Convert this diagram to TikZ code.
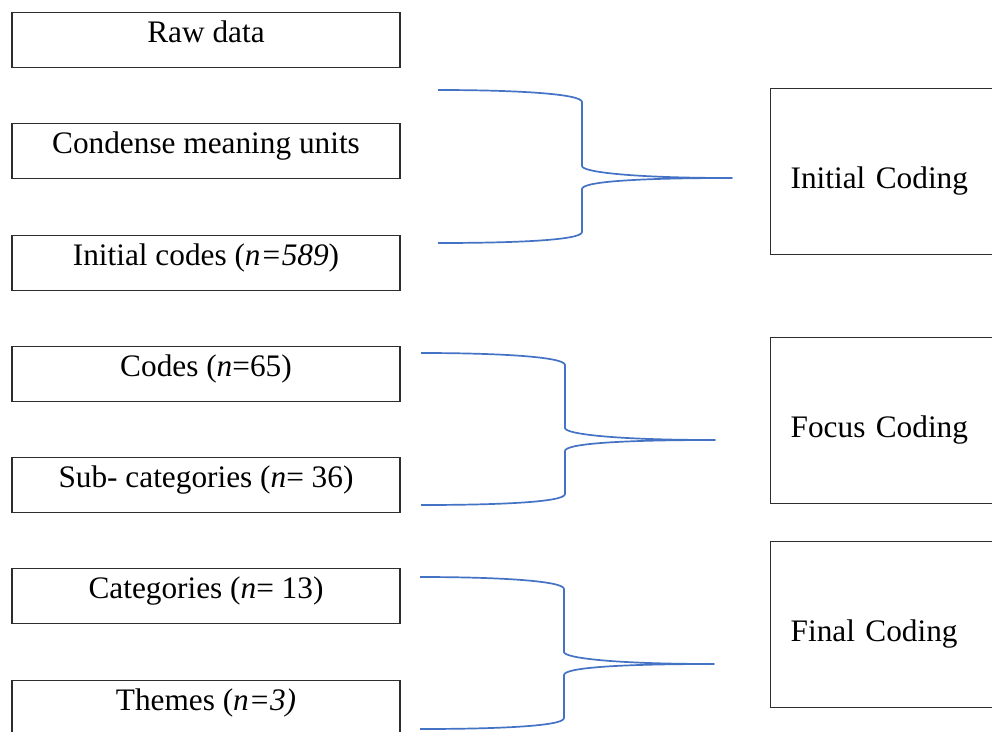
\documentclass[tikz,border=0pt]{standalone}
\usepackage{fontspec}
\setmainfont{Liberation Serif}
\definecolor{braceblue}{RGB}{68,114,196}
\definecolor{framegray}{RGB}{45,45,45}
\tikzset{
  stagebox/.style={draw=framegray, line width=1.3pt, anchor=north,
    minimum width=388pt, inner xsep=0pt, inner ysep=0pt,
    text height=30pt, text depth=25pt,
    font=\fontsize{31.3}{36}\selectfont},
  phasebox/.style={draw=framegray, line width=1.3pt, anchor=north west,
    text width=240pt, align=left, inner xsep=20pt, inner ysep=0pt,
    text height=100pt, text depth=66pt,
    font=\fontsize{31.3}{36}\selectfont},
  codebrace/.style={draw=braceblue, line width=1.7pt, line join=round}
}
\begin{document}
\begin{tikzpicture}[x=1pt, y=-1pt]
  \clip (0,0) rectangle (992,731);
  \fill[white] (0,0) rectangle (992,731);

  % coding stages on the left
  \node[stagebox] (raw)       at (206,12)  {Raw data};
  \node[stagebox] (condense)  at (206,123) {Condense meaning units};
  \node[stagebox] (initcodes) at (206,235) {Initial codes (\textit{n=589})};
  \node[stagebox] (codes)     at (206,346) {Codes (\textit{n}=65)};
  \node[stagebox] (subcat)    at (206,457) {Sub- categories (\textit{n}= 36)};
  \node[stagebox] (cat)       at (206,568) {Categories (\textit{n}= 13)};
  \node[stagebox] (themes)    at (206,680) {Themes (\textit{n=3)}};

  % coding phases on the right
  \node[phasebox] (initcoding)  at (770,88)  {Initial Coding};
  \node[phasebox] (focuscoding) at (770,337) {Focus Coding};
  \node[phasebox] (finalcoding) at (770,541) {Final Coding};

  % curly braces gathering the stages into phases
  \foreach \L/\M/\T/\A/\C/\B/\n in {438/582/732/90/178/243/1,
                                    421/565/715/353/440/505/2,
                                    420/564/714/577/664/729/3}{
    \coordinate (b\n top) at (\L,\A);
    \coordinate (b\n tip) at (\T,\C);
    \coordinate (b\n bot) at (\L,\B);
    \draw[codebrace] (b\n top)
      .. controls (\L+80,\A) and (\M,\A+4) .. (\M,\A+12)
      -- (\M,\C-12)
      .. controls (\M,\C-6) and (\M+50,\C) .. (b\n tip)
      .. controls (\M+50,\C) and (\M,\C+4) .. (\M,\C+11)
      -- (\M,\B-11)
      .. controls (\M,\B-3) and (\L+80,\B) .. (b\n bot);
  }
\end{tikzpicture}
\end{document}
